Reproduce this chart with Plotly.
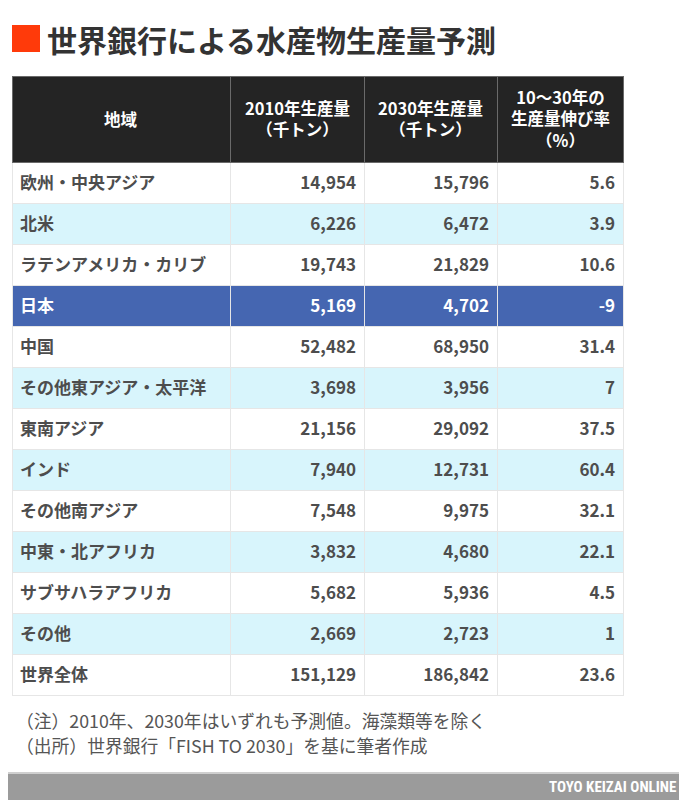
import plotly.graph_objects as go

regions = ["欧州・中央アジア", "北米", "ラテンアメリカ・カリブ", "日本", "中国",
           "その他東アジア・太平洋", "東南アジア", "インド", "その他南アジア",
           "中東・北アフリカ", "サブサハラアフリカ", "その他", "世界全体"]
prod_2010 = ["14,954", "6,226", "19,743", "5,169", "52,482", "3,698", "21,156",
             "7,940", "7,548", "3,832", "5,682", "2,669", "151,129"]
prod_2030 = ["15,796", "6,472", "21,829", "4,702", "68,950", "3,956", "29,092",
             "12,731", "9,975", "4,680", "5,936", "2,723", "186,842"]
growth = ["5.6", "3.9", "10.6", "-9", "31.4", "7", "37.5", "60.4", "32.1",
          "22.1", "4.5", "1", "23.6"]
headers = ["地域", "2010年生産量<br>（千トン）", "2030年生産量<br>（千トン）",
           "10〜30年の<br>生産量伸び率<br>（%）"]

FONT = "Noto Sans CJK JP"
highlight = "日本"

# the page body has an 8px margin, so work in reference pixels minus 8
W, H = 679, 792


def px(x):
    return (x - 8) / W


def py(y):
    return 1 - (y - 8) / H


col_edges = [12, 230, 364, 497, 623]
col_widths = [b - a for a, b in zip(col_edges[:-1], col_edges[1:])]
header_top, header_h, row_h = 76, 86, 41
text_drop = 6

fills = []
font_colors = []
for i, r in enumerate(regions):
    if r == highlight:
        fills.append("#4566b1")
        font_colors.append("white")
    elif i % 2 == 1:
        fills.append("#d8f5fc")
        font_colors.append("#4d4d4d")
    else:
        fills.append("white")
        font_colors.append("#4d4d4d")

domain = dict(x=[px(col_edges[0]), px(col_edges[-1])], y=[0.0, py(header_top)])

# backgrounds and grid
back = go.Table(
    domain=domain,
    columnwidth=col_widths,
    header=dict(values=[""] * 4, fill_color="#242424",
                line=dict(color="#6a6a6a", width=1), height=header_h),
    cells=dict(values=[[""] * len(regions)] * 4, fill_color=[fills] * 4,
               line=dict(color="#e6e6e6", width=1), height=row_h),
    hoverinfo="skip",
)

# cell texts, dropped a little so they sit mid-row
front = go.Table(
    domain=domain,
    columnwidth=col_widths,
    header=dict(values=[""] * 4, fill_color="rgba(0,0,0,0)",
                line=dict(width=0), height=header_h + text_drop),
    cells=dict(
        values=[regions, prod_2010, prod_2030, growth],
        fill_color="rgba(0,0,0,0)",
        line=dict(width=0),
        align=["left", "right", "right", "right"],
        font=dict(family=FONT, size=17, color=[font_colors] * 4, weight="bold"),
        height=row_h,
    ),
)

fig = go.Figure([back, front])

# header labels, centred in each column
for i, label in enumerate(headers):
    cx = (col_edges[i] + col_edges[i + 1]) / 2
    cy = header_top + header_h / 2
    fig.add_annotation(text="<b>%s</b>" % label, xref="paper", yref="paper",
                       x=px(cx), y=py(cy), xanchor="center", yanchor="middle",
                       showarrow=False, align="center",
                       font=dict(family=FONT, size=16.5, color="white"))

fig.add_shape(type="rect", xref="paper", yref="paper",
              x0=px(12), x1=px(40), y0=py(52), y1=py(25),
              fillcolor="#ff3a0a", line=dict(width=0))
fig.add_annotation(text="<b>世界銀行による水産物生産量予測</b>", xref="paper", yref="paper",
                   x=px(45), y=py(39), xanchor="left", yanchor="middle",
                   showarrow=False, font=dict(family=FONT, size=30, color="#333333"))

fig.add_annotation(text="（注）2010年、2030年はいずれも予測値。海藻類等を除く",
                   xref="paper", yref="paper", x=px(14), y=py(720),
                   xanchor="left", yanchor="middle", showarrow=False,
                   font=dict(family=FONT, size=17.8, color="#555555"))
fig.add_annotation(text="（出所）世界銀行「FISH TO 2030」を基に筆者作成",
                   xref="paper", yref="paper", x=px(14), y=py(745),
                   xanchor="left", yanchor="middle", showarrow=False,
                   font=dict(family=FONT, size=17.8, color="#555555"))

fig.add_shape(type="rect", xref="paper", yref="paper",
              x0=0, x1=1, y0=0, y1=py(773),
              fillcolor="#9b9b9b", line=dict(width=0))
fig.add_shape(type="line", xref="paper", yref="paper",
              x0=0, x1=1, y0=py(773), y1=py(773),
              line=dict(color="#cfcfcf", width=2))
fig.add_annotation(text="<b>TOYO KEIZAI ONLINE</b>", xref="paper", yref="paper",
                   x=px(678), y=py(787), xanchor="right", yanchor="middle",
                   showarrow=False, font=dict(family="Roboto Condensed, Roboto", size=15, color="white"))

fig.update_layout(width=W, height=H, margin=dict(l=0, r=0, t=0, b=0),
                  paper_bgcolor="white")

fig.write_html("out.html")
